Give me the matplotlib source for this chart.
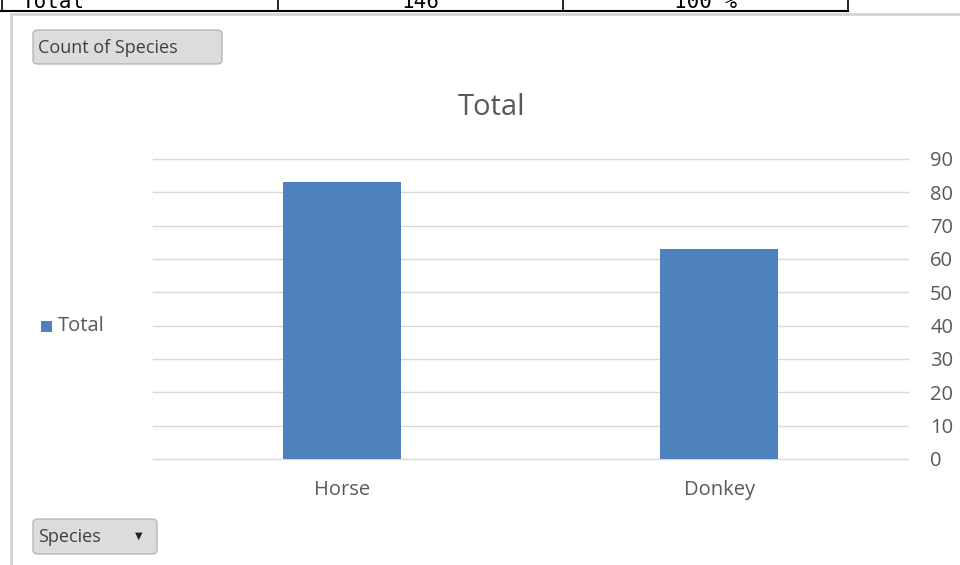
import matplotlib.pyplot as plt
from matplotlib.patches import FancyBboxPatch, Rectangle
from matplotlib.lines import Line2D

species = ['Horse', 'Donkey']
counts = [83, 63]
table_row = ['Total', '146', '100 %']
yticks = list(range(0, 100, 10))

W, H = 960, 565
fig = plt.figure(figsize=(W / 100, H / 100), dpi=100)
fig.patch.set_facecolor('white')
plt.rcParams['font.family'] = ['Open Sans', 'DejaVu Sans']

def px(x, y):
    return x / W, 1 - y / H

# partial table row, cut off at the top edge as in the screenshot
for x0, x1, txt in [(2, 278, table_row[0]), (278, 563, table_row[1]), (563, 848, table_row[2])]:
    first = txt == table_row[0]
    cx = 22 if first else (x0 + x1) / 2
    fig.text(*px(cx, 2.5), txt, ha='left' if first else 'center', va='center',
             fontsize=15, family='DejaVu Sans Mono', color='black')
for xv in [2, 278, 563, 848]:
    fig.add_artist(Line2D([xv / W] * 2, [1, 1 - 11 / H], color='black', lw=1.2))
fig.add_artist(Line2D([0, 848 / W], [1 - 11 / H] * 2, color='black', lw=1.5))

# chart area frame
fig.add_artist(Line2D([11 / W, 1], [1 - 14 / H] * 2, color='#d4d4d4', lw=2))
fig.add_artist(Line2D([11 / W] * 2, [1 - 14 / H, 0], color='#d4d4d4', lw=2))

# buttons
def button(x0, y0, x1, y1, label, arrow=False):
    bx, by = px(x0, y1)
    bw, bh = (x1 - x0) / W, (y1 - y0) / H
    fig.add_artist(FancyBboxPatch((bx, by), bw, bh, boxstyle='round,pad=0,rounding_size=0.006',
                                  transform=fig.transFigure, facecolor='#dcdcdc',
                                  edgecolor='#b8b8b8', lw=1))
    fig.text(*px(x0 + 5, (y0 + y1) / 2 + 1), label, ha='left', va='center', fontsize=13, color='#404040')
    if arrow:
        fig.text(*px(x1 - 18, (y0 + y1) / 2 - 1), '\u25BC', ha='center', va='center',
                 fontsize=7, color='#222222', family='DejaVu Sans')

button(33, 30, 222, 64, 'Count of Species')
button(33, 519, 157, 554, 'Species', arrow=True)

# plot area
ax = fig.add_axes([153 / W, (H - 459) / H, 755 / W, 300 / H])
ax.bar(range(len(species)), counts, width=0.313, color='#4f81bd', zorder=3)
ax.set_xlim(-0.5, len(species) - 0.5)
ax.set_ylim(0, 90)
ax.set_yticks(yticks)
ax.yaxis.tick_right()
ax.grid(axis='y', color='#d9d9d9', lw=1, zorder=0)
for gl in ax.get_ygridlines():
    gl.set_clip_on(False)
for s in ax.spines.values():
    s.set_visible(False)
ax.tick_params(axis='y', length=0, pad=16, labelsize=14.5, labelcolor='#595959')
ax.set_xticks(range(len(species)))
ax.set_xticklabels(species)
ax.tick_params(axis='x', length=0, pad=15, labelsize=14.5, labelcolor='#595959')
for lbl in ax.get_yticklabels():
    lbl.set_ha('left')

fig.text(*px(492, 108), 'Total', ha='center', va='center', fontsize=21, color='#595959')

# legend
fig.add_artist(Rectangle(px(41, 332), 11 / W, 11 / H, transform=fig.transFigure,
                         facecolor='#4f81bd', edgecolor='none'))
fig.text(*px(58, 326), 'Total', ha='left', va='center', fontsize=14.5, color='#595959')

fig.savefig('out.png', dpi=100)
